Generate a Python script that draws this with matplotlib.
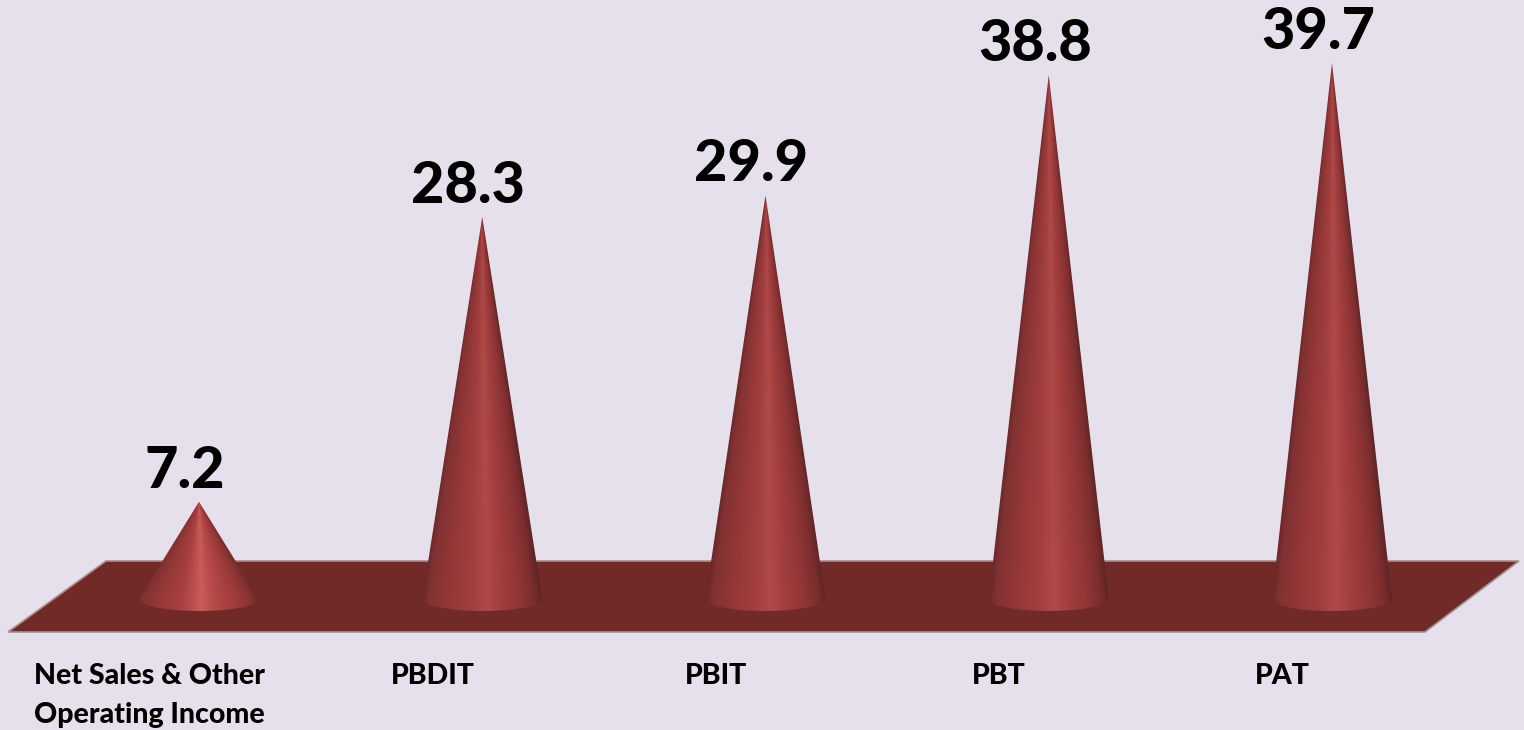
import numpy as np
import matplotlib
matplotlib.use('Agg')
import matplotlib.pyplot as plt
from matplotlib.colors import LinearSegmentedColormap
from matplotlib.patches import Polygon, PathPatch
from matplotlib.path import Path

categories = ['Net Sales & Other\nOperating Income', 'PBDIT', 'PBIT', 'PBT', 'PAT']
values = [7.2, 28.3, 29.9, 38.8, 39.7]
labels = ['7.2', '28.3', '29.9', '38.8', '39.7']

W, H = 1524, 730
# picture pixels -> data units
STEP = 283.25
X0 = 199
UNIT = 13.5
Y0 = 599


def px(x, y):
    return (x - X0) / STEP, (Y0 - y) / UNIT


plt.rcParams['font.family'] = ['Lato', 'DejaVu Sans']
fig = plt.figure(figsize=(W / 100, H / 100), dpi=100, facecolor='#e6e0ec')
ax = fig.add_axes([0, 0, 1, 1])
ax.set_facecolor('#e6e0ec')

# floor
floor = [px(8, 632), px(106, 561), px(1519, 561), px(1425, 632)]
ax.add_patch(Polygon(floor, closed=True, facecolor='#722a28', edgecolor='#a58f90', linewidth=1.2, zorder=1))

shade = LinearSegmentedColormap.from_list('cone', [
    (0.0, '#6a292a'), (0.05, '#823132'), (0.25, '#963839'), (0.42, '#a23f3f'),
    (0.54, '#b04a4a'), (0.66, '#a23e3e'), (0.82, '#903536'), (0.94, '#7a2d2e'), (1.0, '#5e2526')])
shade_short = LinearSegmentedColormap.from_list('cone_short', [
    (0.0, '#7e3031'), (0.15, '#943838'), (0.35, '#a84040'), (0.46, '#bd5050'),
    (0.52, '#cb5c5c'), (0.62, '#b84a4a'), (0.8, '#a03c3c'), (0.93, '#8a3334'), (1.0, '#702a2b')])

half_w = 60 / STEP
ell_h = 12 / UNIT
t = np.linspace(np.pi, 2 * np.pi, 60)
for i, v in enumerate(values):
    outline = [(i, v), (i - half_w, 0)]
    outline += [(i + half_w * np.cos(a), ell_h * np.sin(a)) for a in t]
    outline += [(i + half_w, 0), (i, v)]
    clip = PathPatch(Path(outline), facecolor='none', edgecolor='none', transform=ax.transData)
    ax.add_patch(clip)

    xs = np.linspace(i - half_w, i + half_w, 240)
    ys = np.linspace(v, -ell_h, 700)
    xx, yy = np.meshgrid(xs, ys)
    width = half_w * np.clip(1 - yy / v, 0.002, 1)
    u = np.clip((xx - i) / width, -1, 1) * 0.5 + 0.5
    cmap = shade_short if v < 10 else shade
    im = ax.imshow(u, extent=[i - half_w, i + half_w, -ell_h, v], origin='upper', cmap=cmap,
                   vmin=0, vmax=1, aspect='auto', interpolation='bilinear', zorder=2)
    im.set_clip_path(clip)

    ax.text(i - 14 / STEP, v + 14 / UNIT, labels[i], ha='center', va='baseline', fontsize=41.5,
            fontweight='black', color='black', zorder=3)
    for j, line in enumerate(categories[i].split('\n')):
        lx, ly = px(X0 + i * STEP - 49.5, 684 + 39 * j)
        ax.text(lx, ly, line, ha='center', va='baseline', fontsize=20.5,
                fontweight='black', color='black', zorder=3)

ax.set_xlim(px(0, 0)[0], px(W, 0)[0])
ax.set_ylim(px(0, H)[1], px(0, 0)[1])
ax.axis('off')
fig.savefig('out.png', dpi=100, facecolor=fig.get_facecolor())
